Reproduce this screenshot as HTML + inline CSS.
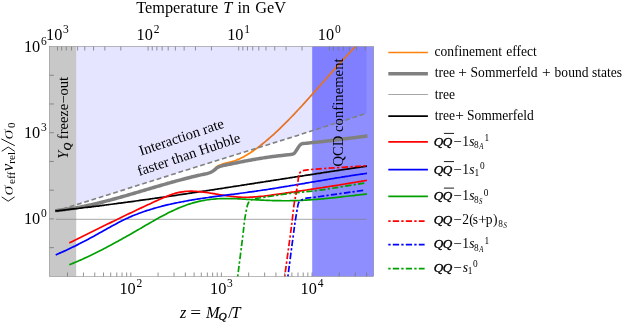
<!DOCTYPE html><html><head><meta charset="utf-8"><title>plot</title>
<style>html,body{margin:0;padding:0;background:#fff;}svg{display:block;}text{font-family:"Liberation Serif",serif;fill:#000;}.t{opacity:0.999}</style></head><body>
<svg width="630" height="323" viewBox="0 0 630 323">
<rect x="0" y="0" width="630" height="323" fill="#fff"/>
<rect x="49.5" y="46.6" width="26.7" height="229.8" fill="#c8c8c8"/>
<rect x="312.2" y="46.6" width="61.4" height="229.8" fill="#8e8eff"/>
<line x1="55.9" y1="219.3" x2="366.6" y2="219.3" stroke="#808080" stroke-width="0.7"/>
<path d="M214.00,169.31 C214.34,169.01 215.34,168.02 216.02,167.48 C216.69,166.93 217.36,166.47 218.03,166.06 C218.71,165.64 219.38,165.30 220.05,164.98 C220.72,164.67 221.40,164.41 222.07,164.18 C222.74,163.94 223.41,163.75 224.09,163.57 C224.76,163.38 225.43,163.23 226.10,163.08 C226.78,162.92 227.45,162.79 228.12,162.63 C228.79,162.48 229.46,162.33 230.14,162.16 C230.81,161.99 231.48,161.80 232.15,161.60 C232.83,161.40 233.50,161.18 234.17,160.94 C234.84,160.71 235.52,160.46 236.19,160.20 C236.86,159.93 237.53,159.66 238.21,159.36 C238.88,159.07 239.55,158.77 240.22,158.45 C240.90,158.13 241.57,157.80 242.24,157.46 C242.91,157.11 243.58,156.76 244.26,156.39 C244.93,156.02 245.60,155.64 246.27,155.25 C246.95,154.86 247.62,154.45 248.29,154.04 C248.96,153.63 249.64,153.20 250.31,152.77 C250.98,152.33 251.65,151.89 252.33,151.44 C253.00,150.98 253.67,150.52 254.34,150.05 C255.02,149.58 255.69,149.10 256.36,148.61 C257.03,148.12 257.70,147.63 258.38,147.12 C259.05,146.62 259.72,146.11 260.39,145.59 C261.07,145.07 261.74,144.54 262.41,144.00 C263.08,143.47 263.76,142.92 264.43,142.37 C265.10,141.82 265.77,141.27 266.45,140.70 C267.12,140.14 267.79,139.57 268.46,138.99 C269.14,138.41 269.81,137.82 270.48,137.23 C271.15,136.64 271.82,136.04 272.50,135.44 C273.17,134.83 273.84,134.22 274.51,133.61 C275.19,132.99 275.86,132.37 276.53,131.74 C277.20,131.11 277.88,130.48 278.55,129.84 C279.22,129.20 279.89,128.55 280.57,127.90 C281.24,127.25 281.91,126.59 282.58,125.93 C283.26,125.27 283.93,124.61 284.60,123.94 C285.27,123.27 285.94,122.59 286.62,121.91 C287.29,121.23 287.96,120.55 288.63,119.86 C289.31,119.17 289.98,118.48 290.65,117.78 C291.32,117.08 292.00,116.38 292.67,115.68 C293.34,114.97 294.01,114.26 294.69,113.55 C295.36,112.84 296.03,112.12 296.70,111.41 C297.38,110.69 298.05,109.97 298.72,109.24 C299.39,108.52 300.06,107.79 300.74,107.06 C301.41,106.33 302.08,105.59 302.75,104.86 C303.43,104.12 304.10,103.38 304.77,102.64 C305.44,101.90 306.12,101.16 306.79,100.41 C307.46,99.67 308.13,98.92 308.81,98.17 C309.48,97.42 310.15,96.67 310.82,95.92 C311.50,95.17 312.17,94.41 312.84,93.66 C313.51,92.90 314.18,92.15 314.86,91.39 C315.53,90.63 316.20,89.88 316.87,89.12 C317.55,88.36 318.22,87.60 318.89,86.84 C319.56,86.08 320.24,85.32 320.91,84.56 C321.58,83.80 322.25,83.04 322.93,82.27 C323.60,81.51 324.27,80.75 324.94,79.99 C325.62,79.23 326.29,78.47 326.96,77.71 C327.63,76.95 328.30,76.19 328.98,75.43 C329.65,74.67 330.32,73.91 330.99,73.16 C331.67,72.40 332.34,71.64 333.01,70.89 C333.68,70.13 334.36,69.38 335.03,68.63 C335.70,67.88 336.37,67.13 337.05,66.38 C337.72,65.63 338.39,64.88 339.06,64.14 C339.74,63.39 340.41,62.65 341.08,61.91 C341.75,61.17 342.42,60.43 343.10,59.69 C343.77,58.96 344.44,58.22 345.11,57.49 C345.79,56.76 346.46,56.03 347.13,55.31 C347.80,54.58 348.48,53.86 349.15,53.14 C349.82,52.42 350.49,51.71 351.17,51.00 C351.84,50.29 352.51,49.58 353.18,48.87 C353.86,48.17 354.86,47.12 355.20,46.77" fill="none" stroke="#ff800a" stroke-width="1.7"/>
<path d="M76.2,46.6 L76.2,204.8 L90.0,200.5 L190.0,168.9 L296.0,135.9 L366.3,113.4 L366.6,113.4 L366.6,46.6 Z" fill="#0000ff" fill-opacity="0.1"/>
<path d="M55.2,211.3 L90.0,200.5 L190.0,168.9 L296.0,135.9 L366.3,113.4" fill="none" stroke="#808080" stroke-width="1.6" stroke-dasharray="4.8 2.8"/>
<path d="M55.20,210.75 C55.54,210.71 56.55,210.61 57.22,210.54 C57.90,210.47 58.57,210.39 59.25,210.31 C59.92,210.24 60.60,210.16 61.27,210.07 C61.95,209.99 62.62,209.90 63.30,209.81 C63.97,209.72 64.65,209.63 65.32,209.54 C65.99,209.44 66.67,209.34 67.34,209.24 C68.02,209.14 68.69,209.04 69.37,208.94 C70.04,208.83 70.72,208.72 71.39,208.61 C72.07,208.50 72.74,208.39 73.42,208.28 C74.09,208.16 74.77,208.04 75.44,207.92 C76.11,207.80 76.79,207.68 77.46,207.56 C78.14,207.43 78.81,207.31 79.49,207.18 C80.16,207.05 80.84,206.92 81.51,206.78 C82.19,206.65 82.86,206.51 83.54,206.38 C84.21,206.24 84.89,206.10 85.56,205.96 C86.23,205.82 86.91,205.67 87.58,205.53 C88.26,205.38 88.93,205.24 89.61,205.09 C90.28,204.94 90.96,204.79 91.63,204.63 C92.31,204.48 92.98,204.33 93.66,204.17 C94.33,204.01 95.01,203.85 95.68,203.69 C96.35,203.54 97.03,203.37 97.70,203.21 C98.38,203.05 99.05,202.88 99.73,202.72 C100.40,202.55 101.08,202.38 101.75,202.21 C102.43,202.04 103.10,201.87 103.78,201.70 C104.45,201.53 105.13,201.36 105.80,201.18 C106.47,201.01 107.15,200.83 107.82,200.65 C108.50,200.48 109.17,200.30 109.85,200.12 C110.52,199.94 111.20,199.76 111.87,199.58 C112.55,199.39 113.22,199.21 113.90,199.03 C114.57,198.84 115.25,198.66 115.92,198.47 C116.59,198.29 117.27,198.10 117.94,197.91 C118.62,197.72 119.29,197.53 119.97,197.34 C120.64,197.15 121.32,196.96 121.99,196.77 C122.67,196.58 123.34,196.39 124.02,196.19 C124.69,196.00 125.37,195.81 126.04,195.61 C126.71,195.42 127.39,195.22 128.06,195.03 C128.74,194.83 129.41,194.64 130.09,194.44 C130.76,194.24 131.44,194.05 132.11,193.85 C132.79,193.65 133.46,193.45 134.14,193.26 C134.81,193.06 135.49,192.86 136.16,192.66 C136.83,192.46 137.51,192.26 138.18,192.06 C138.86,191.86 139.53,191.66 140.21,191.46 C140.88,191.26 141.56,191.06 142.23,190.86 C142.91,190.66 143.58,190.46 144.26,190.26 C144.93,190.06 145.61,189.86 146.28,189.66 C146.95,189.46 147.63,189.26 148.30,189.06 C148.98,188.86 149.65,188.66 150.33,188.46 C151.00,188.26 151.68,188.06 152.35,187.86 C153.03,187.66 153.70,187.46 154.38,187.27 C155.05,187.07 155.73,186.87 156.40,186.67 C157.07,186.47 157.75,186.27 158.42,186.08 C159.10,185.88 159.77,185.68 160.45,185.49 C161.12,185.29 161.80,185.09 162.47,184.90 C163.15,184.70 163.82,184.51 164.50,184.32 C165.17,184.12 165.85,183.93 166.52,183.74 C167.19,183.54 167.87,183.35 168.54,183.16 C169.22,182.97 169.89,182.78 170.57,182.59 C171.24,182.40 171.92,182.21 172.59,182.02 C173.27,181.84 173.94,181.65 174.62,181.46 C175.29,181.28 175.97,181.09 176.64,180.91 C177.31,180.73 177.99,180.54 178.66,180.36 C179.34,180.18 180.01,180.00 180.69,179.82 C181.36,179.64 182.04,179.46 182.71,179.29 C183.39,179.11 184.06,178.93 184.74,178.76 C185.41,178.59 186.09,178.41 186.76,178.24 C187.43,178.07 188.11,177.90 188.78,177.73 C189.46,177.56 190.13,177.40 190.81,177.23 C191.48,177.06 192.16,176.90 192.83,176.74 C193.51,176.58 194.18,176.41 194.86,176.26 C195.53,176.10 196.21,175.94 196.88,175.78 C197.55,175.63 198.23,175.47 198.90,175.32 C199.58,175.17 200.25,175.02 200.93,174.87 C201.60,174.72 202.28,174.58 202.95,174.43 C203.63,174.29 204.30,174.14 204.98,174.00 C205.65,173.86 206.00,173.87 207.00,173.59 C208.00,173.30 209.67,172.96 211.00,172.30 C212.33,171.64 213.90,170.42 215.00,169.60 C216.10,168.78 216.32,168.05 217.60,167.40 C218.88,166.75 221.51,166.04 222.70,165.68 C223.89,165.32 224.06,165.38 224.74,165.23 C225.42,165.09 226.10,164.94 226.78,164.80 C227.46,164.65 228.14,164.51 228.82,164.36 C229.50,164.22 230.18,164.08 230.86,163.93 C231.54,163.79 232.22,163.65 232.90,163.51 C233.58,163.37 234.26,163.23 234.94,163.09 C235.62,162.95 236.30,162.81 236.98,162.68 C237.66,162.54 238.34,162.40 239.02,162.27 C239.69,162.13 240.37,162.00 241.05,161.86 C241.73,161.73 242.41,161.60 243.09,161.47 C243.77,161.34 244.45,161.21 245.13,161.08 C245.81,160.95 246.49,160.82 247.17,160.69 C247.85,160.57 248.53,160.44 249.21,160.32 C249.89,160.19 250.57,160.07 251.25,159.95 C251.93,159.83 252.61,159.70 253.29,159.58 C253.97,159.47 254.65,159.35 255.33,159.23 C256.01,159.11 256.69,159.00 257.37,158.88 C258.05,158.77 258.73,158.66 259.41,158.54 C260.09,158.43 260.77,158.32 261.45,158.21 C262.13,158.11 262.81,158.00 263.49,157.89 C264.17,157.79 264.85,157.68 265.53,157.58 C266.21,157.48 266.89,157.38 267.57,157.28 C268.25,157.18 268.93,157.08 269.61,156.98 C270.29,156.89 270.97,156.79 271.65,156.70 C272.33,156.61 273.01,156.51 273.68,156.43 C274.36,156.34 275.04,156.25 275.72,156.16 C276.40,156.08 277.08,155.99 277.76,155.91 C278.44,155.83 279.12,155.74 279.80,155.67 C280.48,155.59 281.16,155.51 281.84,155.43 C282.52,155.36 283.20,155.29 283.88,155.21 C284.56,155.14 285.24,155.07 285.92,155.01 C286.60,154.94 287.28,154.87 287.96,154.81 C288.64,154.75 289.24,154.74 290.00,154.62 C290.76,154.51 291.73,154.39 292.50,154.10 C293.27,153.81 293.88,153.62 294.60,152.90 C295.32,152.18 296.03,150.95 296.80,149.80 C297.57,148.65 298.47,146.95 299.20,146.00 C299.93,145.05 300.62,144.50 301.20,144.10 C301.78,143.70 302.11,143.70 302.70,143.58 C303.29,143.47 304.05,143.45 304.72,143.38 C305.40,143.32 306.07,143.25 306.75,143.18 C307.43,143.11 308.10,143.05 308.77,142.98 C309.45,142.91 310.12,142.84 310.80,142.77 C311.48,142.70 312.15,142.63 312.82,142.56 C313.50,142.49 314.17,142.42 314.85,142.35 C315.52,142.28 316.20,142.20 316.88,142.13 C317.55,142.06 318.22,141.99 318.90,141.91 C319.57,141.84 320.25,141.77 320.93,141.69 C321.60,141.62 322.27,141.54 322.95,141.47 C323.62,141.39 324.30,141.32 324.98,141.24 C325.65,141.17 326.32,141.09 327.00,141.02 C327.68,140.94 328.35,140.86 329.02,140.78 C329.70,140.71 330.38,140.63 331.05,140.55 C331.73,140.47 332.40,140.39 333.07,140.31 C333.75,140.24 334.43,140.16 335.10,140.08 C335.78,140.00 336.45,139.92 337.12,139.83 C337.80,139.75 338.47,139.67 339.15,139.59 C339.82,139.51 340.50,139.43 341.18,139.34 C341.85,139.26 342.52,139.18 343.20,139.10 C343.88,139.01 344.55,138.93 345.23,138.84 C345.90,138.76 346.57,138.67 347.25,138.59 C347.93,138.50 348.60,138.42 349.27,138.33 C349.95,138.25 350.62,138.16 351.30,138.07 C351.98,137.99 352.65,137.90 353.32,137.81 C354.00,137.72 354.68,137.63 355.35,137.55 C356.03,137.46 356.70,137.37 357.38,137.28 C358.05,137.19 358.72,137.10 359.40,137.01 C360.07,136.92 360.75,136.83 361.43,136.74 C362.10,136.65 362.77,136.55 363.45,136.46 C364.12,136.37 364.80,136.28 365.48,136.18 C366.15,136.09 367.16,135.95 367.50,135.90" fill="none" stroke="#808080" stroke-width="3.5" stroke-linejoin="round"/>
<path d="M55.20,211.00 C55.54,210.96 56.54,210.85 57.21,210.78 C57.88,210.70 58.55,210.63 59.22,210.56 C59.89,210.48 60.56,210.41 61.23,210.33 C61.91,210.26 62.58,210.19 63.25,210.11 C63.92,210.04 64.59,209.96 65.26,209.88 C65.93,209.81 66.60,209.73 67.27,209.66 C67.94,209.58 68.61,209.50 69.28,209.43 C69.95,209.35 70.62,209.27 71.29,209.20 C71.96,209.12 72.63,209.04 73.30,208.96 C73.98,208.89 74.65,208.81 75.32,208.73 C75.99,208.65 76.66,208.57 77.33,208.49 C78.00,208.42 78.67,208.34 79.34,208.26 C80.01,208.18 80.68,208.10 81.35,208.02 C82.02,207.94 82.69,207.86 83.36,207.78 C84.03,207.70 84.70,207.62 85.37,207.53 C86.04,207.45 86.72,207.37 87.39,207.29 C88.06,207.21 88.73,207.13 89.40,207.05 C90.07,206.96 90.74,206.88 91.41,206.80 C92.08,206.72 92.75,206.63 93.42,206.55 C94.09,206.47 94.76,206.38 95.43,206.30 C96.10,206.22 96.77,206.13 97.44,206.05 C98.11,205.96 98.78,205.88 99.46,205.80 C100.13,205.71 100.80,205.63 101.47,205.54 C102.14,205.46 102.81,205.37 103.48,205.29 C104.15,205.20 104.82,205.11 105.49,205.03 C106.16,204.94 106.83,204.86 107.50,204.77 C108.17,204.68 108.84,204.60 109.51,204.51 C110.18,204.42 110.85,204.34 111.53,204.25 C112.20,204.16 112.87,204.07 113.54,203.99 C114.21,203.90 114.88,203.81 115.55,203.72 C116.22,203.64 116.89,203.55 117.56,203.46 C118.23,203.37 118.90,203.28 119.57,203.19 C120.24,203.10 120.91,203.01 121.58,202.92 C122.25,202.83 122.92,202.75 123.59,202.66 C124.27,202.57 124.94,202.48 125.61,202.39 C126.28,202.30 126.95,202.20 127.62,202.11 C128.29,202.02 128.96,201.93 129.63,201.84 C130.30,201.75 130.97,201.66 131.64,201.57 C132.31,201.48 132.98,201.39 133.65,201.29 C134.32,201.20 134.99,201.11 135.66,201.02 C136.34,200.93 137.01,200.83 137.68,200.74 C138.35,200.65 139.02,200.55 139.69,200.46 C140.36,200.37 141.03,200.28 141.70,200.18 C142.37,200.09 143.04,200.00 143.71,199.90 C144.38,199.81 145.05,199.72 145.72,199.62 C146.39,199.53 147.06,199.43 147.73,199.34 C148.40,199.24 149.08,199.15 149.75,199.06 C150.42,198.96 151.09,198.87 151.76,198.77 C152.43,198.68 153.10,198.58 153.77,198.49 C154.44,198.39 155.11,198.29 155.78,198.20 C156.45,198.10 157.12,198.01 157.79,197.91 C158.46,197.82 159.13,197.72 159.80,197.62 C160.47,197.53 161.14,197.43 161.82,197.33 C162.49,197.24 163.16,197.14 163.83,197.04 C164.50,196.95 165.17,196.85 165.84,196.75 C166.51,196.66 167.18,196.56 167.85,196.46 C168.52,196.36 169.19,196.27 169.86,196.17 C170.53,196.07 171.20,195.97 171.87,195.88 C172.54,195.78 173.21,195.68 173.89,195.58 C174.56,195.48 175.23,195.38 175.90,195.29 C176.57,195.19 177.24,195.09 177.91,194.99 C178.58,194.89 179.25,194.79 179.92,194.69 C180.59,194.59 181.26,194.49 181.93,194.40 C182.60,194.30 183.27,194.20 183.94,194.10 C184.61,194.00 185.28,193.90 185.95,193.80 C186.63,193.70 187.30,193.60 187.97,193.50 C188.64,193.40 189.31,193.30 189.98,193.20 C190.65,193.10 191.32,193.00 191.99,192.90 C192.66,192.80 193.33,192.70 194.00,192.60 C194.67,192.50 195.34,192.39 196.01,192.29 C196.68,192.19 197.35,192.09 198.02,191.99 C198.70,191.89 199.37,191.79 200.04,191.69 C200.71,191.59 201.38,191.49 202.05,191.38 C202.72,191.28 203.39,191.18 204.06,191.08 C204.73,190.98 205.40,190.88 206.07,190.77 C206.74,190.67 207.41,190.57 208.08,190.47 C208.75,190.37 209.42,190.27 210.09,190.16 C210.76,190.06 211.44,189.96 212.11,189.86 C212.78,189.75 213.45,189.65 214.12,189.55 C214.79,189.45 215.46,189.34 216.13,189.24 C216.80,189.14 217.47,189.04 218.14,188.93 C218.81,188.83 219.48,188.73 220.15,188.63 C220.82,188.52 221.49,188.42 222.16,188.32 C222.83,188.21 223.50,188.11 224.18,188.01 C224.85,187.90 225.52,187.80 226.19,187.70 C226.86,187.60 227.53,187.49 228.20,187.39 C228.87,187.29 229.54,187.18 230.21,187.08 C230.88,186.97 231.55,186.87 232.22,186.77 C232.89,186.66 233.56,186.56 234.23,186.46 C234.90,186.35 235.57,186.25 236.25,186.15 C236.92,186.04 237.59,185.94 238.26,185.83 C238.93,185.73 239.60,185.63 240.27,185.52 C240.94,185.42 241.61,185.32 242.28,185.21 C242.95,185.11 243.62,185.00 244.29,184.90 C244.96,184.80 245.63,184.69 246.30,184.59 C246.97,184.48 247.64,184.38 248.31,184.27 C248.99,184.17 249.66,184.07 250.33,183.96 C251.00,183.86 251.67,183.75 252.34,183.65 C253.01,183.54 253.68,183.44 254.35,183.34 C255.02,183.23 255.69,183.13 256.36,183.02 C257.03,182.92 257.70,182.81 258.37,182.71 C259.04,182.61 259.71,182.50 260.38,182.40 C261.06,182.29 261.73,182.19 262.40,182.08 C263.07,181.98 263.74,181.88 264.41,181.77 C265.08,181.67 265.75,181.56 266.42,181.46 C267.09,181.35 267.76,181.25 268.43,181.14 C269.10,181.04 269.77,180.94 270.44,180.83 C271.11,180.73 271.78,180.62 272.45,180.52 C273.12,180.41 273.80,180.31 274.47,180.20 C275.14,180.10 275.81,180.00 276.48,179.89 C277.15,179.79 277.82,179.68 278.49,179.58 C279.16,179.47 279.83,179.37 280.50,179.27 C281.17,179.16 281.84,179.06 282.51,178.95 C283.18,178.85 283.85,178.74 284.52,178.64 C285.19,178.54 285.86,178.43 286.54,178.33 C287.21,178.22 287.88,178.12 288.55,178.02 C289.22,177.91 289.89,177.81 290.56,177.70 C291.23,177.60 291.90,177.49 292.57,177.39 C293.24,177.29 293.91,177.18 294.58,177.08 C295.25,176.98 295.92,176.87 296.59,176.77 C297.26,176.66 297.93,176.56 298.61,176.46 C299.28,176.35 299.95,176.25 300.62,176.14 C301.29,176.04 301.96,175.94 302.63,175.83 C303.30,175.73 303.97,175.63 304.64,175.52 C305.31,175.42 305.98,175.32 306.65,175.21 C307.32,175.11 307.99,175.01 308.66,174.90 C309.33,174.80 310.00,174.70 310.67,174.59 C311.35,174.49 312.02,174.39 312.69,174.29 C313.36,174.18 314.03,174.08 314.70,173.98 C315.37,173.87 316.04,173.77 316.71,173.67 C317.38,173.57 318.05,173.46 318.72,173.36 C319.39,173.26 320.06,173.16 320.73,173.05 C321.40,172.95 322.07,172.85 322.74,172.75 C323.42,172.64 324.09,172.54 324.76,172.44 C325.43,172.34 326.10,172.24 326.77,172.13 C327.44,172.03 328.11,171.93 328.78,171.83 C329.45,171.73 330.12,171.62 330.79,171.52 C331.46,171.42 332.13,171.32 332.80,171.22 C333.47,171.12 334.14,171.02 334.81,170.91 C335.48,170.81 336.16,170.71 336.83,170.61 C337.50,170.51 338.17,170.41 338.84,170.31 C339.51,170.21 340.18,170.11 340.85,170.01 C341.52,169.91 342.19,169.80 342.86,169.70 C343.53,169.60 344.20,169.50 344.87,169.40 C345.54,169.30 346.21,169.20 346.88,169.10 C347.55,169.00 348.22,168.90 348.90,168.80 C349.57,168.70 350.24,168.60 350.91,168.50 C351.58,168.41 352.25,168.31 352.92,168.21 C353.59,168.11 354.26,168.01 354.93,167.91 C355.60,167.81 356.27,167.71 356.94,167.61 C357.61,167.51 358.28,167.42 358.95,167.32 C359.62,167.22 360.29,167.12 360.97,167.02 C361.64,166.92 362.31,166.83 362.98,166.73 C363.65,166.63 364.32,166.53 364.99,166.43 C365.66,166.34 366.66,166.19 367.00,166.14" fill="none" stroke="#000" stroke-width="1.7"/>
<path d="M69.30,242.98 C69.64,242.81 70.64,242.32 71.31,241.99 C71.98,241.66 72.65,241.33 73.32,240.99 C73.99,240.66 74.66,240.33 75.33,240.00 C76.00,239.67 76.68,239.34 77.35,239.01 C78.02,238.68 78.69,238.35 79.36,238.01 C80.03,237.68 80.70,237.35 81.37,237.02 C82.04,236.69 82.71,236.36 83.38,236.02 C84.05,235.69 84.72,235.36 85.39,235.03 C86.06,234.70 86.73,234.37 87.40,234.03 C88.07,233.70 88.74,233.37 89.41,233.04 C90.09,232.71 90.76,232.38 91.43,232.04 C92.10,231.71 92.77,231.38 93.44,231.05 C94.11,230.72 94.78,230.39 95.45,230.05 C96.12,229.72 96.79,229.39 97.46,229.06 C98.13,228.73 98.80,228.40 99.47,228.07 C100.14,227.74 100.81,227.41 101.48,227.08 C102.15,226.75 102.82,226.42 103.50,226.09 C104.17,225.76 104.84,225.43 105.51,225.10 C106.18,224.77 106.85,224.44 107.52,224.11 C108.19,223.78 108.86,223.45 109.53,223.12 C110.20,222.79 110.87,222.46 111.54,222.13 C112.21,221.81 112.88,221.48 113.55,221.15 C114.22,220.82 114.89,220.50 115.56,220.17 C116.23,219.84 116.91,219.52 117.58,219.19 C118.25,218.86 118.92,218.54 119.59,218.21 C120.26,217.89 120.93,217.56 121.60,217.24 C122.27,216.91 122.94,216.59 123.61,216.26 C124.28,215.94 124.95,215.62 125.62,215.29 C126.29,214.97 126.96,214.65 127.63,214.33 C128.30,214.00 128.97,213.68 129.64,213.36 C130.32,213.04 130.99,212.72 131.66,212.40 C132.33,212.08 133.00,211.76 133.67,211.44 C134.34,211.12 135.01,210.80 135.68,210.48 C136.35,210.17 137.02,209.85 137.69,209.53 C138.36,209.22 139.03,208.90 139.70,208.58 C140.37,208.27 141.04,207.95 141.71,207.64 C142.38,207.32 143.05,207.01 143.72,206.70 C144.40,206.38 145.07,206.07 145.74,205.76 C146.41,205.45 147.08,205.14 147.75,204.83 C148.42,204.52 149.09,204.21 149.76,203.90 C150.43,203.59 151.10,203.28 151.77,202.97 C152.44,202.67 153.11,202.36 153.78,202.05 C154.45,201.75 155.12,201.44 155.79,201.14 C156.46,200.83 157.13,200.53 157.81,200.23 C158.48,199.92 159.15,199.62 159.82,199.32 C160.49,199.02 161.16,198.72 161.83,198.43 C162.50,198.13 163.17,197.84 163.84,197.55 C164.51,197.27 165.18,196.98 165.85,196.71 C166.52,196.43 167.19,196.16 167.86,195.90 C168.53,195.63 169.20,195.38 169.87,195.13 C170.54,194.88 171.22,194.64 171.89,194.41 C172.56,194.18 173.23,193.96 173.90,193.75 C174.57,193.54 175.24,193.34 175.91,193.15 C176.58,192.97 177.25,192.79 177.92,192.63 C178.59,192.47 179.26,192.32 179.93,192.19 C180.60,192.06 181.27,191.94 181.94,191.83 C182.61,191.73 183.28,191.64 183.95,191.56 C184.63,191.49 185.30,191.42 185.97,191.37 C186.64,191.32 187.31,191.28 187.98,191.25 C188.65,191.22 189.32,191.20 189.99,191.19 C190.66,191.18 191.33,191.19 192.00,191.20 C192.67,191.21 193.34,191.23 194.01,191.26 C194.68,191.29 195.35,191.32 196.02,191.37 C196.69,191.41 197.36,191.46 198.04,191.52 C198.71,191.58 199.38,191.64 200.05,191.71 C200.72,191.78 201.39,191.86 202.06,191.93 C202.73,192.01 203.40,192.10 204.07,192.18 C204.74,192.27 205.41,192.36 206.08,192.46 C206.75,192.55 207.42,192.65 208.09,192.75 C208.76,192.85 209.43,192.95 210.10,193.06 C210.77,193.16 211.45,193.27 212.12,193.38 C212.79,193.49 213.46,193.60 214.13,193.71 C214.80,193.82 215.47,193.93 216.14,194.05 C216.81,194.16 217.48,194.27 218.15,194.38 C218.82,194.50 219.49,194.61 220.16,194.72 C220.83,194.83 221.50,194.94 222.17,195.05 C222.84,195.16 223.51,195.26 224.18,195.37 C224.85,195.47 225.53,195.57 226.20,195.67 C226.87,195.77 227.54,195.87 228.21,195.96 C228.88,196.06 229.55,196.15 230.22,196.24 C230.89,196.32 231.56,196.40 232.23,196.48 C232.90,196.56 233.57,196.63 234.24,196.70 C234.91,196.77 235.58,196.83 236.25,196.89 C236.92,196.95 237.59,197.00 238.26,197.04 C238.94,197.09 239.61,197.13 240.28,197.16 C240.95,197.19 241.62,197.22 242.29,197.23 C242.96,197.25 243.63,197.27 244.30,197.27 C244.97,197.28 245.64,197.28 246.31,197.27 C246.98,197.27 247.65,197.26 248.32,197.24 C248.99,197.22 249.66,197.20 250.33,197.17 C251.00,197.15 251.67,197.12 252.35,197.08 C253.02,197.04 253.69,197.00 254.36,196.96 C255.03,196.91 255.70,196.86 256.37,196.81 C257.04,196.76 257.71,196.70 258.38,196.64 C259.05,196.58 259.72,196.51 260.39,196.44 C261.06,196.38 261.73,196.31 262.40,196.23 C263.07,196.16 263.74,196.08 264.41,196.00 C265.08,195.92 265.76,195.84 266.43,195.76 C267.10,195.67 267.77,195.59 268.44,195.50 C269.11,195.41 269.78,195.32 270.45,195.23 C271.12,195.14 271.79,195.05 272.46,194.96 C273.13,194.86 273.80,194.77 274.47,194.67 C275.14,194.58 275.81,194.48 276.48,194.39 C277.15,194.29 277.82,194.19 278.49,194.10 C279.17,194.00 279.84,193.90 280.51,193.81 C281.18,193.71 281.85,193.61 282.52,193.52 C283.19,193.42 283.86,193.32 284.53,193.23 C285.20,193.13 285.87,193.03 286.54,192.93 C287.21,192.84 287.88,192.74 288.55,192.64 C289.22,192.54 289.89,192.45 290.56,192.35 C291.23,192.25 291.90,192.15 292.57,192.05 C293.25,191.96 293.92,191.86 294.59,191.76 C295.26,191.66 295.93,191.56 296.60,191.46 C297.27,191.36 297.94,191.27 298.61,191.17 C299.28,191.07 299.95,190.97 300.62,190.87 C301.29,190.77 301.96,190.67 302.63,190.57 C303.30,190.47 303.97,190.37 304.64,190.27 C305.31,190.17 305.98,190.07 306.66,189.97 C307.33,189.87 308.00,189.77 308.67,189.67 C309.34,189.57 310.01,189.47 310.68,189.37 C311.35,189.27 312.02,189.16 312.69,189.06 C313.36,188.96 314.03,188.86 314.70,188.76 C315.37,188.66 316.04,188.55 316.71,188.45 C317.38,188.35 318.05,188.25 318.72,188.14 C319.39,188.04 320.07,187.94 320.74,187.84 C321.41,187.73 322.08,187.63 322.75,187.53 C323.42,187.42 324.09,187.32 324.76,187.21 C325.43,187.11 326.10,187.01 326.77,186.90 C327.44,186.80 328.11,186.69 328.78,186.59 C329.45,186.48 330.12,186.38 330.79,186.27 C331.46,186.17 332.13,186.06 332.80,185.95 C333.48,185.85 334.15,185.74 334.82,185.63 C335.49,185.53 336.16,185.42 336.83,185.31 C337.50,185.21 338.17,185.10 338.84,184.99 C339.51,184.88 340.18,184.77 340.85,184.67 C341.52,184.56 342.19,184.45 342.86,184.34 C343.53,184.23 344.20,184.12 344.87,184.01 C345.54,183.90 346.21,183.79 346.89,183.68 C347.56,183.57 348.23,183.46 348.90,183.35 C349.57,183.24 350.24,183.13 350.91,183.02 C351.58,182.91 352.25,182.80 352.92,182.68 C353.59,182.57 354.26,182.46 354.93,182.35 C355.60,182.23 356.27,182.12 356.94,182.01 C357.61,181.89 358.28,181.78 358.95,181.66 C359.62,181.55 360.30,181.44 360.97,181.32 C361.64,181.21 362.31,181.09 362.98,180.98 C363.65,180.86 364.32,180.74 364.99,180.63 C365.66,180.51 366.66,180.34 367.00,180.28" fill="none" stroke="#ff0000" stroke-width="1.7"/>
<path d="M55.70,254.88 C56.03,254.73 57.04,254.31 57.71,254.02 C58.38,253.73 59.05,253.44 59.72,253.15 C60.39,252.86 61.06,252.56 61.73,252.26 C62.39,251.96 63.06,251.66 63.73,251.36 C64.40,251.06 65.07,250.75 65.74,250.44 C66.41,250.13 67.08,249.82 67.75,249.51 C68.42,249.19 69.09,248.88 69.76,248.56 C70.43,248.24 71.10,247.92 71.77,247.60 C72.44,247.27 73.11,246.95 73.78,246.62 C74.44,246.29 75.11,245.96 75.78,245.63 C76.45,245.30 77.12,244.96 77.79,244.63 C78.46,244.29 79.13,243.95 79.80,243.61 C80.47,243.27 81.14,242.93 81.81,242.58 C82.48,242.24 83.15,241.89 83.82,241.54 C84.49,241.19 85.16,240.84 85.83,240.48 C86.50,240.13 87.16,239.77 87.83,239.42 C88.50,239.06 89.17,238.70 89.84,238.34 C90.51,237.98 91.18,237.61 91.85,237.25 C92.52,236.88 93.19,236.52 93.86,236.15 C94.53,235.78 95.20,235.41 95.87,235.03 C96.54,234.66 97.21,234.29 97.88,233.91 C98.55,233.54 99.22,233.16 99.88,232.78 C100.55,232.41 101.22,232.03 101.89,231.65 C102.56,231.28 103.23,230.90 103.90,230.52 C104.57,230.15 105.24,229.77 105.91,229.39 C106.58,229.02 107.25,228.64 107.92,228.27 C108.59,227.90 109.26,227.52 109.93,227.15 C110.60,226.78 111.27,226.41 111.93,226.05 C112.60,225.68 113.27,225.31 113.94,224.95 C114.61,224.59 115.28,224.23 115.95,223.88 C116.62,223.52 117.29,223.17 117.96,222.82 C118.63,222.47 119.30,222.12 119.97,221.78 C120.64,221.44 121.31,221.10 121.98,220.77 C122.65,220.44 123.32,220.11 123.99,219.78 C124.65,219.46 125.32,219.14 125.99,218.83 C126.66,218.51 127.33,218.21 128.00,217.90 C128.67,217.60 129.34,217.30 130.01,217.01 C130.68,216.72 131.35,216.43 132.02,216.15 C132.69,215.86 133.36,215.59 134.03,215.31 C134.70,215.04 135.37,214.77 136.04,214.51 C136.70,214.24 137.37,213.98 138.04,213.73 C138.71,213.47 139.38,213.22 140.05,212.98 C140.72,212.73 141.39,212.49 142.06,212.25 C142.73,212.01 143.40,211.78 144.07,211.55 C144.74,211.32 145.41,211.09 146.08,210.87 C146.75,210.64 147.42,210.43 148.09,210.21 C148.76,210.00 149.42,209.78 150.09,209.58 C150.76,209.37 151.43,209.16 152.10,208.96 C152.77,208.76 153.44,208.56 154.11,208.37 C154.78,208.18 155.45,207.98 156.12,207.80 C156.79,207.61 157.46,207.42 158.13,207.24 C158.80,207.06 159.47,206.88 160.14,206.70 C160.81,206.52 161.48,206.35 162.14,206.18 C162.81,206.01 163.48,205.84 164.15,205.67 C164.82,205.51 165.49,205.34 166.16,205.18 C166.83,205.02 167.50,204.86 168.17,204.70 C168.84,204.55 169.51,204.39 170.18,204.24 C170.85,204.09 171.52,203.94 172.19,203.79 C172.86,203.64 173.53,203.50 174.19,203.35 C174.86,203.21 175.53,203.07 176.20,202.93 C176.87,202.79 177.54,202.65 178.21,202.52 C178.88,202.38 179.55,202.25 180.22,202.12 C180.89,201.98 181.56,201.85 182.23,201.73 C182.90,201.60 183.57,201.47 184.24,201.35 C184.91,201.22 185.58,201.10 186.25,200.98 C186.91,200.86 187.58,200.74 188.25,200.62 C188.92,200.50 189.59,200.39 190.26,200.27 C190.93,200.16 191.60,200.04 192.27,199.93 C192.94,199.82 193.61,199.71 194.28,199.60 C194.95,199.49 195.62,199.38 196.29,199.27 C196.96,199.17 197.63,199.06 198.30,198.96 C198.96,198.85 199.63,198.75 200.30,198.65 C200.97,198.55 201.64,198.45 202.31,198.35 C202.98,198.25 203.65,198.15 204.32,198.05 C204.99,197.95 205.66,197.86 206.33,197.76 C207.00,197.66 207.67,197.57 208.34,197.48 C209.01,197.38 209.68,197.29 210.35,197.20 C211.02,197.10 211.68,197.01 212.35,196.92 C213.02,196.83 213.69,196.74 214.36,196.65 C215.03,196.56 215.70,196.47 216.37,196.38 C217.04,196.29 217.71,196.20 218.38,196.12 C219.05,196.03 219.72,195.94 220.39,195.85 C221.06,195.77 221.73,195.68 222.40,195.59 C223.07,195.51 223.74,195.42 224.40,195.34 C225.07,195.25 225.74,195.16 226.41,195.08 C227.08,194.99 227.75,194.91 228.42,194.82 C229.09,194.74 229.76,194.65 230.43,194.57 C231.10,194.48 231.77,194.40 232.44,194.31 C233.11,194.23 233.78,194.14 234.45,194.05 C235.12,193.97 235.79,193.88 236.45,193.80 C237.12,193.71 237.79,193.62 238.46,193.54 C239.13,193.45 239.80,193.36 240.47,193.28 C241.14,193.19 241.81,193.10 242.48,193.01 C243.15,192.93 243.82,192.84 244.49,192.75 C245.16,192.66 245.83,192.57 246.50,192.48 C247.17,192.39 247.84,192.30 248.51,192.21 C249.17,192.12 249.84,192.02 250.51,191.93 C251.18,191.84 251.85,191.74 252.52,191.65 C253.19,191.56 253.86,191.46 254.53,191.36 C255.20,191.27 255.87,191.17 256.54,191.08 C257.21,190.98 257.88,190.88 258.55,190.78 C259.22,190.68 259.89,190.58 260.56,190.49 C261.22,190.39 261.89,190.29 262.56,190.18 C263.23,190.08 263.90,189.98 264.57,189.88 C265.24,189.78 265.91,189.68 266.58,189.57 C267.25,189.47 267.92,189.37 268.59,189.26 C269.26,189.16 269.93,189.05 270.60,188.95 C271.27,188.84 271.94,188.74 272.61,188.63 C273.28,188.53 273.94,188.42 274.61,188.31 C275.28,188.21 275.95,188.10 276.62,187.99 C277.29,187.88 277.96,187.77 278.63,187.67 C279.30,187.56 279.97,187.45 280.64,187.34 C281.31,187.23 281.98,187.12 282.65,187.01 C283.32,186.90 283.99,186.79 284.66,186.68 C285.33,186.57 286.00,186.46 286.66,186.35 C287.33,186.24 288.00,186.13 288.67,186.01 C289.34,185.90 290.01,185.79 290.68,185.68 C291.35,185.57 292.02,185.45 292.69,185.34 C293.36,185.23 294.03,185.12 294.70,185.00 C295.37,184.89 296.04,184.78 296.71,184.66 C297.38,184.55 298.05,184.44 298.71,184.33 C299.38,184.21 300.05,184.10 300.72,183.98 C301.39,183.87 302.06,183.76 302.73,183.64 C303.40,183.53 304.07,183.42 304.74,183.30 C305.41,183.19 306.08,183.07 306.75,182.96 C307.42,182.85 308.09,182.73 308.76,182.62 C309.43,182.50 310.10,182.39 310.77,182.28 C311.43,182.16 312.10,182.05 312.77,181.93 C313.44,181.82 314.11,181.71 314.78,181.59 C315.45,181.48 316.12,181.37 316.79,181.25 C317.46,181.14 318.13,181.03 318.80,180.91 C319.47,180.80 320.14,180.69 320.81,180.57 C321.48,180.46 322.15,180.35 322.82,180.23 C323.48,180.12 324.15,180.01 324.82,179.90 C325.49,179.78 326.16,179.67 326.83,179.56 C327.50,179.45 328.17,179.34 328.84,179.23 C329.51,179.11 330.18,179.00 330.85,178.89 C331.52,178.78 332.19,178.67 332.86,178.56 C333.53,178.45 334.20,178.34 334.87,178.23 C335.54,178.12 336.20,178.01 336.87,177.91 C337.54,177.80 338.21,177.69 338.88,177.58 C339.55,177.47 340.22,177.36 340.89,177.26 C341.56,177.15 342.23,177.04 342.90,176.94 C343.57,176.83 344.24,176.72 344.91,176.62 C345.58,176.51 346.25,176.41 346.92,176.30 C347.59,176.20 348.26,176.10 348.92,175.99 C349.59,175.89 350.26,175.79 350.93,175.68 C351.60,175.58 352.27,175.48 352.94,175.38 C353.61,175.28 354.28,175.18 354.95,175.08 C355.62,174.98 356.29,174.88 356.96,174.78 C357.63,174.68 358.30,174.58 358.97,174.48 C359.64,174.39 360.31,174.29 360.97,174.19 C361.64,174.10 362.31,174.00 362.98,173.91 C363.65,173.81 364.32,173.72 364.99,173.62 C365.66,173.53 366.67,173.39 367.00,173.35" fill="none" stroke="#0000ff" stroke-width="1.7"/>
<path d="M69.30,264.77 C69.64,264.63 70.64,264.23 71.31,263.96 C71.98,263.69 72.65,263.41 73.32,263.13 C73.99,262.86 74.66,262.58 75.33,262.29 C76.00,262.01 76.68,261.72 77.35,261.43 C78.02,261.14 78.69,260.85 79.36,260.56 C80.03,260.26 80.70,259.97 81.37,259.67 C82.04,259.37 82.71,259.06 83.38,258.76 C84.05,258.46 84.72,258.15 85.39,257.84 C86.06,257.53 86.73,257.22 87.40,256.90 C88.07,256.59 88.74,256.27 89.41,255.95 C90.09,255.63 90.76,255.31 91.43,254.99 C92.10,254.66 92.77,254.34 93.44,254.01 C94.11,253.68 94.78,253.35 95.45,253.02 C96.12,252.69 96.79,252.35 97.46,252.02 C98.13,251.68 98.80,251.34 99.47,251.00 C100.14,250.66 100.81,250.32 101.48,249.98 C102.15,249.63 102.82,249.29 103.50,248.94 C104.17,248.59 104.84,248.24 105.51,247.89 C106.18,247.54 106.85,247.19 107.52,246.83 C108.19,246.48 108.86,246.12 109.53,245.77 C110.20,245.41 110.87,245.05 111.54,244.69 C112.21,244.33 112.88,243.97 113.55,243.60 C114.22,243.24 114.89,242.88 115.56,242.51 C116.23,242.14 116.91,241.77 117.58,241.41 C118.25,241.04 118.92,240.67 119.59,240.30 C120.26,239.92 120.93,239.55 121.60,239.18 C122.27,238.80 122.94,238.43 123.61,238.05 C124.28,237.68 124.95,237.30 125.62,236.92 C126.29,236.54 126.96,236.17 127.63,235.79 C128.30,235.41 128.97,235.03 129.64,234.64 C130.32,234.26 130.99,233.88 131.66,233.50 C132.33,233.11 133.00,232.73 133.67,232.34 C134.34,231.96 135.01,231.57 135.68,231.19 C136.35,230.80 137.02,230.42 137.69,230.03 C138.36,229.64 139.03,229.25 139.70,228.87 C140.37,228.48 141.04,228.09 141.71,227.70 C142.38,227.31 143.05,226.92 143.72,226.53 C144.40,226.14 145.07,225.75 145.74,225.36 C146.41,224.98 147.08,224.59 147.75,224.20 C148.42,223.81 149.09,223.42 149.76,223.04 C150.43,222.65 151.10,222.27 151.77,221.88 C152.44,221.50 153.11,221.12 153.78,220.74 C154.45,220.35 155.12,219.98 155.79,219.60 C156.46,219.22 157.13,218.85 157.81,218.48 C158.48,218.10 159.15,217.73 159.82,217.37 C160.49,217.00 161.16,216.63 161.83,216.27 C162.50,215.91 163.17,215.55 163.84,215.20 C164.51,214.84 165.18,214.49 165.85,214.15 C166.52,213.80 167.19,213.45 167.86,213.11 C168.53,212.77 169.20,212.44 169.87,212.11 C170.54,211.78 171.22,211.45 171.89,211.13 C172.56,210.81 173.23,210.49 173.90,210.18 C174.57,209.87 175.24,209.56 175.91,209.26 C176.58,208.96 177.25,208.66 177.92,208.37 C178.59,208.08 179.26,207.80 179.93,207.52 C180.60,207.24 181.27,206.97 181.94,206.70 C182.61,206.44 183.28,206.18 183.95,205.93 C184.63,205.68 185.30,205.43 185.97,205.19 C186.64,204.95 187.31,204.72 187.98,204.50 C188.65,204.27 189.32,204.05 189.99,203.84 C190.66,203.63 191.33,203.42 192.00,203.22 C192.67,203.02 193.34,202.83 194.01,202.64 C194.68,202.46 195.35,202.28 196.02,202.11 C196.69,201.93 197.36,201.77 198.04,201.61 C198.71,201.45 199.38,201.30 200.05,201.15 C200.72,201.01 201.39,200.87 202.06,200.73 C202.73,200.60 203.40,200.47 204.07,200.35 C204.74,200.23 205.41,200.12 206.08,200.01 C206.75,199.91 207.42,199.81 208.09,199.72 C208.76,199.62 209.43,199.54 210.10,199.45 C210.77,199.37 211.45,199.30 212.12,199.23 C212.79,199.16 213.46,199.10 214.13,199.04 C214.80,198.99 215.47,198.94 216.14,198.89 C216.81,198.84 217.48,198.80 218.15,198.77 C218.82,198.73 219.49,198.70 220.16,198.68 C220.83,198.65 221.50,198.63 222.17,198.61 C222.84,198.59 223.51,198.58 224.18,198.57 C224.85,198.56 225.53,198.56 226.20,198.56 C226.87,198.56 227.54,198.56 228.21,198.56 C228.88,198.57 229.55,198.58 230.22,198.59 C230.89,198.60 231.56,198.62 232.23,198.63 C232.90,198.65 233.57,198.67 234.24,198.69 C234.91,198.72 235.58,198.74 236.25,198.77 C236.92,198.79 237.59,198.82 238.26,198.85 C238.94,198.88 239.61,198.92 240.28,198.95 C240.95,198.98 241.62,199.02 242.29,199.05 C242.96,199.09 243.63,199.13 244.30,199.16 C244.97,199.20 245.64,199.24 246.31,199.28 C246.98,199.31 247.65,199.35 248.32,199.39 C248.99,199.43 249.66,199.47 250.33,199.51 C251.00,199.55 251.67,199.58 252.35,199.62 C253.02,199.66 253.69,199.70 254.36,199.73 C255.03,199.77 255.70,199.81 256.37,199.84 C257.04,199.88 257.71,199.91 258.38,199.95 C259.05,199.98 259.72,200.02 260.39,200.05 C261.06,200.08 261.73,200.11 262.40,200.15 C263.07,200.18 263.74,200.21 264.41,200.24 C265.08,200.27 265.76,200.30 266.43,200.32 C267.10,200.35 267.77,200.38 268.44,200.40 C269.11,200.43 269.78,200.45 270.45,200.48 C271.12,200.50 271.79,200.52 272.46,200.54 C273.13,200.56 273.80,200.58 274.47,200.60 C275.14,200.62 275.81,200.64 276.48,200.65 C277.15,200.67 277.82,200.68 278.49,200.69 C279.17,200.70 279.84,200.71 280.51,200.72 C281.18,200.73 281.85,200.74 282.52,200.74 C283.19,200.75 283.86,200.75 284.53,200.75 C285.20,200.75 285.87,200.75 286.54,200.75 C287.21,200.75 287.88,200.74 288.55,200.74 C289.22,200.73 289.89,200.72 290.56,200.71 C291.23,200.70 291.90,200.69 292.57,200.67 C293.25,200.66 293.92,200.64 294.59,200.62 C295.26,200.60 295.93,200.58 296.60,200.56 C297.27,200.54 297.94,200.51 298.61,200.48 C299.28,200.46 299.95,200.43 300.62,200.40 C301.29,200.37 301.96,200.33 302.63,200.30 C303.30,200.26 303.97,200.23 304.64,200.19 C305.31,200.15 305.98,200.11 306.66,200.07 C307.33,200.03 308.00,199.99 308.67,199.94 C309.34,199.90 310.01,199.85 310.68,199.81 C311.35,199.76 312.02,199.71 312.69,199.66 C313.36,199.61 314.03,199.56 314.70,199.51 C315.37,199.45 316.04,199.40 316.71,199.34 C317.38,199.29 318.05,199.23 318.72,199.17 C319.39,199.12 320.07,199.06 320.74,199.00 C321.41,198.94 322.08,198.88 322.75,198.81 C323.42,198.75 324.09,198.69 324.76,198.62 C325.43,198.56 326.10,198.49 326.77,198.43 C327.44,198.36 328.11,198.30 328.78,198.23 C329.45,198.16 330.12,198.09 330.79,198.02 C331.46,197.95 332.13,197.88 332.80,197.81 C333.48,197.74 334.15,197.67 334.82,197.60 C335.49,197.52 336.16,197.45 336.83,197.38 C337.50,197.30 338.17,197.23 338.84,197.16 C339.51,197.08 340.18,197.01 340.85,196.93 C341.52,196.86 342.19,196.78 342.86,196.71 C343.53,196.63 344.20,196.55 344.87,196.48 C345.54,196.40 346.21,196.32 346.89,196.25 C347.56,196.17 348.23,196.09 348.90,196.02 C349.57,195.94 350.24,195.86 350.91,195.78 C351.58,195.71 352.25,195.63 352.92,195.55 C353.59,195.48 354.26,195.40 354.93,195.32 C355.60,195.24 356.27,195.17 356.94,195.09 C357.61,195.01 358.28,194.94 358.95,194.86 C359.62,194.78 360.30,194.71 360.97,194.63 C361.64,194.56 362.31,194.48 362.98,194.40 C363.65,194.33 364.32,194.25 364.99,194.18 C365.66,194.11 366.66,194.00 367.00,193.96" fill="none" stroke="#00a000" stroke-width="1.7"/>
<path d="M237.70,276.40 C238.55,269.67 241.63,245.48 242.80,236.00 C243.97,226.52 243.97,224.47 244.70,219.50 C245.43,214.53 246.55,209.03 247.20,206.20 C247.85,203.37 248.07,203.48 248.60,202.50 C249.13,201.52 249.50,200.88 250.40,200.30 C251.30,199.72 251.50,199.53 254.00,199.00 C256.50,198.47 259.27,198.05 265.40,197.10 C271.53,196.15 281.70,194.47 290.80,193.30 C299.90,192.13 307.57,191.83 320.00,190.10 C332.43,188.37 357.83,184.10 365.40,182.90" fill="none" stroke="#00a000" stroke-width="1.7" stroke-dasharray="2.3 2.2 6.3 2.2"/>
<path d="M284.70,276.40 C285.62,269.67 288.93,245.48 290.20,236.00 C291.47,226.52 291.63,224.90 292.30,219.50 C292.97,214.10 293.50,208.28 294.20,203.60 C294.90,198.92 295.75,195.97 296.50,191.40 C297.25,186.83 298.18,179.23 298.70,176.20 C299.22,173.17 299.22,173.97 299.60,173.20 C299.98,172.43 300.43,172.02 301.00,171.60 C301.57,171.18 302.17,170.95 303.00,170.70 C303.83,170.45 303.17,170.42 306.00,170.10 C308.83,169.78 309.83,169.53 320.00,168.80 C330.17,168.07 359.17,166.22 367.00,165.70" fill="none" stroke="#ff0000" stroke-width="1.7" stroke-dasharray="2.3 2.2 6.3 2.2"/>
<path d="M287.90,276.40 C288.78,269.67 291.93,245.48 293.20,236.00 C294.47,226.52 294.70,224.68 295.50,219.50 C296.30,214.32 297.37,207.85 298.00,204.90 C298.63,201.95 298.77,202.58 299.30,201.80 C299.83,201.02 300.42,200.67 301.20,200.20 C301.98,199.73 302.83,199.38 304.00,199.00 C305.17,198.62 305.53,198.32 308.20,197.90 C310.87,197.48 310.57,197.80 320.00,196.50 C329.43,195.20 357.33,191.17 364.80,190.10" fill="none" stroke="#0000ff" stroke-width="1.7" stroke-dasharray="2.3 2.2 6.3 2.2"/>
<rect x="49.5" y="46.6" width="324.1" height="229.8" fill="none" stroke="#777777" stroke-width="0.5"/>
<path d="M67.47,276.4 v-3.9 M83.43,276.4 v-3.9 M94.75,276.4 v-3.9 M103.53,276.4 v-3.9 M110.70,276.4 v-3.9 M116.77,276.4 v-3.9 M122.02,276.4 v-3.9 M126.65,276.4 v-3.9 M130.80,276.4 v-3.9 M158.07,276.4 v-3.9 M174.03,276.4 v-3.9 M185.35,276.4 v-3.9 M194.13,276.4 v-3.9 M201.30,276.4 v-3.9 M207.37,276.4 v-3.9 M212.62,276.4 v-3.9 M217.25,276.4 v-3.9 M221.40,276.4 v-3.9 M248.67,276.4 v-3.9 M264.63,276.4 v-3.9 M275.95,276.4 v-3.9 M284.73,276.4 v-3.9 M291.90,276.4 v-3.9 M297.97,276.4 v-3.9 M303.22,276.4 v-3.9 M307.85,276.4 v-3.9 M312.00,276.4 v-3.9 M339.27,276.4 v-3.9 M355.23,276.4 v-3.9 M366.55,276.4 v-3.9 M365.35,46.6 v3.9 M356.57,46.6 v3.9 M349.40,46.6 v3.9 M343.33,46.6 v3.9 M338.08,46.6 v3.9 M333.45,46.6 v3.9 M329.30,46.6 v3.9 M302.03,46.6 v3.9 M286.07,46.6 v3.9 M274.75,46.6 v3.9 M265.97,46.6 v3.9 M258.80,46.6 v3.9 M252.73,46.6 v3.9 M247.48,46.6 v3.9 M242.85,46.6 v3.9 M238.70,46.6 v3.9 M211.43,46.6 v3.9 M195.47,46.6 v3.9 M184.15,46.6 v3.9 M175.37,46.6 v3.9 M168.20,46.6 v3.9 M162.13,46.6 v3.9 M156.88,46.6 v3.9 M152.25,46.6 v3.9 M148.10,46.6 v3.9 M120.83,46.6 v3.9 M104.87,46.6 v3.9 M93.55,46.6 v3.9 M84.77,46.6 v3.9 M77.60,46.6 v3.9 M71.53,46.6 v3.9 M66.28,46.6 v3.9 M61.65,46.6 v3.9 M57.50,46.6 v3.9 M49.5,247.63 h4.4 M49.5,218.90 h4.4 M49.5,190.17 h4.4 M49.5,161.44 h4.4 M49.5,132.71 h4.4 M49.5,103.98 h4.4 M49.5,75.25 h4.4" stroke="#777777" stroke-width="0.8" fill="none"/>
<g class="t">
<text x="46.0" y="39.7" font-size="16.3">10<tspan font-size="11.5" dy="-7" dx="0.8">3</tspan></text>
<text x="136.6" y="39.7" font-size="16.3">10<tspan font-size="11.5" dy="-7" dx="0.8">2</tspan></text>
<text x="227.2" y="39.7" font-size="16.3">10<tspan font-size="11.5" dy="-7" dx="0.8">1</tspan></text>
<text x="317.8" y="39.7" font-size="16.3">10<tspan font-size="11.5" dy="-7" dx="0.8">0</tspan></text>
<text x="23.9" y="51.9" font-size="16.3">10<tspan font-size="11.5" dy="-7" dx="0.8">6</tspan></text>
<text x="23.9" y="137.8" font-size="16.3">10<tspan font-size="11.5" dy="-7" dx="0.8">3</tspan></text>
<text x="23.9" y="223.8" font-size="16.3">10<tspan font-size="11.5" dy="-7" dx="0.8">0</tspan></text>
<text x="119.4" y="294.0" font-size="16.3">10<tspan font-size="11.5" dy="-7" dx="0.8">2</tspan></text>
<text x="210.0" y="294.0" font-size="16.3">10<tspan font-size="11.5" dy="-7" dx="0.8">3</tspan></text>
<text x="300.6" y="294.0" font-size="16.3">10<tspan font-size="11.5" dy="-7" dx="0.8">4</tspan></text>
<text x="136.2" y="13.4" font-size="16.3" word-spacing="1.0">Temperature <tspan font-style="italic">T</tspan> in GeV</text>
<text transform="translate(343.1,166.6) rotate(-90)" font-size="14.7" textLength="108.2" lengthAdjust="spacing">QCD confinement</text>
<text transform="translate(68.1,158.7) rotate(-90)" font-size="14.5"><tspan font-style="italic">Y</tspan><tspan font-size="10.8" dy="2.6" font-style="italic" stroke="#000" stroke-width="0.3">Q</tspan><tspan dy="-2.6"> freeze−out</tspan></text>
<text transform="translate(140.9,155.7) rotate(-18.6)" font-size="14.6">Interaction rate</text>
<text transform="translate(139.2,176) rotate(-18.6)" font-size="14.6">faster than Hubble</text>
<text transform="translate(13.0,195.62) rotate(-90) scale(1.27,1)" style="font-family:'Liberation Serif'" font-size="16.3" font-style="italic" stroke="#fff" stroke-width="0.3">σ</text>
<text transform="translate(15.3,184.04) rotate(-90) scale(1.0,1)" style="font-family:'Liberation Serif'" font-size="11.3">eff</text>
<text transform="translate(13.0,171.02) rotate(-90) scale(1.0,1)" style="font-family:'Liberation Serif'" font-size="16.3" font-style="italic">v</text>
<text transform="translate(15.3,163.73) rotate(-90) scale(1.0,1)" style="font-family:'Liberation Serif'" font-size="11.3">rel</text>
<text transform="translate(13.0,139.52) rotate(-90) scale(1.27,1)" style="font-family:'Liberation Serif'" font-size="16.3" font-style="italic" stroke="#fff" stroke-width="0.3">σ</text>
<text transform="translate(15.2,128.12) rotate(-90) scale(1.0,1)" style="font-family:'Liberation Serif'" font-size="11.0">0</text>
<path d="M1.7,196.9 L8.2,201.2 L14.7,196.9 M1.7,151.3 L8.2,147.0 L14.7,151.3 M14.8,145.7 L1.3,138.9" fill="none" stroke="#000" stroke-width="0.9"/>
<text transform="translate(179.88,317.8) scale(1.0,1)" style="font-family:'Liberation Serif'" font-size="16.3" font-style="italic">z</text>
<text transform="translate(190.14,317.8) scale(1.18,1)" style="font-family:'Liberation Serif'" font-size="16.3">=</text>
<text transform="translate(205.89,317.8) scale(1.0,1)" style="font-family:'Liberation Serif'" font-size="16.3" font-style="italic">M</text>
<text transform="translate(218.58,320.3) scale(1.0,1)" style="font-family:'Liberation Serif'" font-size="11.3" font-style="italic" stroke="#000" stroke-width="0.35">Q</text>
<text transform="translate(228.30,317.8) scale(1.0,1)" style="font-family:'Liberation Serif'" font-size="16.3">/</text>
<text transform="translate(231.53,317.8) scale(1.0,1)" style="font-family:'Liberation Serif'" font-size="16.3" font-style="italic">T</text>
<text transform="translate(434.38,55.6) scale(0.934,1)" style="font-family:'Liberation Serif'" font-size="14.5">confinement</text>
<text transform="translate(506.27,55.6) scale(0.934,1)" style="font-family:'Liberation Serif'" font-size="14.5">effect</text>
<text transform="translate(434.77,77.2) scale(0.934,1)" style="font-family:'Liberation Serif'" font-size="14.5">tree</text>
<text transform="translate(458.23,77.2) scale(1.06,1)" style="font-family:'Liberation Serif'" font-size="14.5">+</text>
<text transform="translate(470.59,77.2) scale(0.934,1)" style="font-family:'Liberation Serif'" font-size="14.5">Sommerfeld</text>
<text transform="translate(542.03,77.2) scale(1.06,1)" style="font-family:'Liberation Serif'" font-size="14.5">+</text>
<text transform="translate(554.60,77.2) scale(0.934,1)" style="font-family:'Liberation Serif'" font-size="14.5">bound</text>
<text transform="translate(592.04,77.2) scale(0.934,1)" style="font-family:'Liberation Serif'" font-size="14.5">states</text>
<text transform="translate(434.77,98.5) scale(0.934,1)" style="font-family:'Liberation Serif'" font-size="14.5">tree</text>
<text transform="translate(434.77,120.0) scale(0.934,1)" style="font-family:'Liberation Serif'" font-size="14.5">tree</text>
<text transform="translate(455.13,120.0) scale(1.06,1)" style="font-family:'Liberation Serif'" font-size="14.5">+</text>
<text transform="translate(466.99,120.0) scale(0.934,1)" style="font-family:'Liberation Serif'" font-size="14.5">Sommerfeld</text>
<text transform="translate(433.77,145.6) scale(1.0,1)" style="font-family:'Liberation Serif'" font-size="13.2" font-style="italic" stroke="#000" stroke-width="0.4">Q</text>
<text transform="translate(442.67,145.6) scale(1.0,1)" style="font-family:'Liberation Serif'" font-size="13.2" font-style="italic" stroke="#000" stroke-width="0.4">Q</text>
<line x1="443.9" x2="454.0" y1="133.4" y2="133.4" stroke="#000" stroke-width="0.9"/>
<text transform="translate(453.36,145.6) scale(1.03,1)" style="font-family:'Liberation Serif'" font-size="14.5">−</text>
<text transform="translate(462.21,145.6) scale(0.934,1)" style="font-family:'Liberation Serif'" font-size="14.5">1</text>
<text transform="translate(469.33,145.6) scale(0.934,1)" style="font-family:'Liberation Serif'" font-size="14.5" font-style="italic">s</text>
<text transform="translate(473.94,147.79999999999998) scale(0.934,1)" style="font-family:'Liberation Serif'" font-size="10.0">8</text>
<text transform="translate(479.37,148.9) scale(0.934,1)" style="font-family:'Liberation Serif'" font-size="7.3" font-style="italic">A</text>
<text transform="translate(484.58,141.0) scale(0.934,1)" style="font-family:'Liberation Serif'" font-size="10.0">1</text>
<text transform="translate(433.77,173.8) scale(1.0,1)" style="font-family:'Liberation Serif'" font-size="13.2" font-style="italic" stroke="#000" stroke-width="0.4">Q</text>
<text transform="translate(442.67,173.8) scale(1.0,1)" style="font-family:'Liberation Serif'" font-size="13.2" font-style="italic" stroke="#000" stroke-width="0.4">Q</text>
<line x1="443.9" x2="454.0" y1="161.6" y2="161.6" stroke="#000" stroke-width="0.9"/>
<text transform="translate(453.36,173.8) scale(1.03,1)" style="font-family:'Liberation Serif'" font-size="14.5">−</text>
<text transform="translate(462.21,173.8) scale(0.934,1)" style="font-family:'Liberation Serif'" font-size="14.5">1</text>
<text transform="translate(469.33,173.8) scale(0.934,1)" style="font-family:'Liberation Serif'" font-size="14.5" font-style="italic">s</text>
<text transform="translate(474.38,176.0) scale(0.934,1)" style="font-family:'Liberation Serif'" font-size="10.0">1</text>
<text transform="translate(479.94,169.2) scale(0.934,1)" style="font-family:'Liberation Serif'" font-size="10.0">0</text>
<text transform="translate(433.77,200.3) scale(1.0,1)" style="font-family:'Liberation Serif'" font-size="13.2" font-style="italic" stroke="#000" stroke-width="0.4">Q</text>
<text transform="translate(442.67,200.3) scale(1.0,1)" style="font-family:'Liberation Serif'" font-size="13.2" font-style="italic" stroke="#000" stroke-width="0.4">Q</text>
<line x1="443.9" x2="454.0" y1="188.1" y2="188.1" stroke="#000" stroke-width="0.9"/>
<text transform="translate(453.36,200.3) scale(1.03,1)" style="font-family:'Liberation Serif'" font-size="14.5">−</text>
<text transform="translate(462.21,200.3) scale(0.934,1)" style="font-family:'Liberation Serif'" font-size="14.5">1</text>
<text transform="translate(469.33,200.3) scale(0.934,1)" style="font-family:'Liberation Serif'" font-size="14.5" font-style="italic">s</text>
<text transform="translate(473.94,202.5) scale(0.934,1)" style="font-family:'Liberation Serif'" font-size="10.0">8</text>
<text transform="translate(478.92,203.60000000000002) scale(0.934,1)" style="font-family:'Liberation Serif'" font-size="7.3" font-style="italic">S</text>
<text transform="translate(483.74,196.3) scale(0.934,1)" style="font-family:'Liberation Serif'" font-size="10.0">0</text>
<text transform="translate(433.77,224.4) scale(1.0,1)" style="font-family:'Liberation Serif'" font-size="13.2" font-style="italic" stroke="#000" stroke-width="0.4">Q</text>
<text transform="translate(442.67,224.4) scale(1.0,1)" style="font-family:'Liberation Serif'" font-size="13.2" font-style="italic" stroke="#000" stroke-width="0.4">Q</text>
<text transform="translate(453.36,224.4) scale(1.03,1)" style="font-family:'Liberation Serif'" font-size="14.5">−</text>
<text transform="translate(462.30,224.4) scale(0.934,1)" style="font-family:'Liberation Serif'" font-size="14.5">2</text>
<text transform="translate(469.20,224.4) scale(0.934,1)" style="font-family:'Liberation Serif'" font-size="14.5">(</text>
<text transform="translate(472.74,224.4) scale(0.934,1)" style="font-family:'Liberation Serif'" font-size="14.5">s</text>
<text transform="translate(477.91,224.4) scale(1.1,1)" style="font-family:'Liberation Serif'" font-size="14.5">+</text>
<text transform="translate(485.78,224.4) scale(0.934,1)" style="font-family:'Liberation Serif'" font-size="14.5">p</text>
<text transform="translate(492.96,224.4) scale(0.934,1)" style="font-family:'Liberation Serif'" font-size="14.5">)</text>
<text transform="translate(498.34,226.6) scale(0.934,1)" style="font-family:'Liberation Serif'" font-size="10.0">8</text>
<text transform="translate(503.42,227.70000000000002) scale(0.934,1)" style="font-family:'Liberation Serif'" font-size="7.3" font-style="italic">S</text>
<text transform="translate(433.77,248.4) scale(1.0,1)" style="font-family:'Liberation Serif'" font-size="13.2" font-style="italic" stroke="#000" stroke-width="0.4">Q</text>
<text transform="translate(442.67,248.4) scale(1.0,1)" style="font-family:'Liberation Serif'" font-size="13.2" font-style="italic" stroke="#000" stroke-width="0.4">Q</text>
<text transform="translate(453.36,248.4) scale(1.03,1)" style="font-family:'Liberation Serif'" font-size="14.5">−</text>
<text transform="translate(462.21,248.4) scale(0.934,1)" style="font-family:'Liberation Serif'" font-size="14.5">1</text>
<text transform="translate(469.33,248.4) scale(0.934,1)" style="font-family:'Liberation Serif'" font-size="14.5" font-style="italic">s</text>
<text transform="translate(473.94,250.6) scale(0.934,1)" style="font-family:'Liberation Serif'" font-size="10.0">8</text>
<text transform="translate(479.37,251.70000000000002) scale(0.934,1)" style="font-family:'Liberation Serif'" font-size="7.3" font-style="italic">A</text>
<text transform="translate(484.58,243.8) scale(0.934,1)" style="font-family:'Liberation Serif'" font-size="10.0">1</text>
<text transform="translate(433.77,271.8) scale(1.0,1)" style="font-family:'Liberation Serif'" font-size="13.2" font-style="italic" stroke="#000" stroke-width="0.4">Q</text>
<text transform="translate(442.67,271.8) scale(1.0,1)" style="font-family:'Liberation Serif'" font-size="13.2" font-style="italic" stroke="#000" stroke-width="0.4">Q</text>
<text transform="translate(453.36,271.8) scale(1.03,1)" style="font-family:'Liberation Serif'" font-size="14.5">−</text>
<text transform="translate(462.73,271.8) scale(0.934,1)" style="font-family:'Liberation Serif'" font-size="14.5" font-style="italic">s</text>
<text transform="translate(467.68,274.0) scale(0.934,1)" style="font-family:'Liberation Serif'" font-size="10.0">1</text>
<text transform="translate(472.94,267.2) scale(0.934,1)" style="font-family:'Liberation Serif'" font-size="10.0">0</text>
</g>
<line x1="388.3" x2="427.9" y1="52.5" y2="52.5" stroke="#ff800a" stroke-width="1.7"/>
<line x1="388.3" x2="427.9" y1="73.8" y2="73.8" stroke="#808080" stroke-width="3.6"/>
<line x1="388.3" x2="427.9" y1="94.5" y2="94.5" stroke="#808080" stroke-width="0.7"/>
<line x1="388.3" x2="427.9" y1="116.1" y2="116.1" stroke="#000" stroke-width="1.7"/>
<line x1="388.3" x2="427.9" y1="141.9" y2="141.9" stroke="#ff0000" stroke-width="1.7"/>
<line x1="388.3" x2="427.9" y1="169.6" y2="169.6" stroke="#0000ff" stroke-width="1.7"/>
<line x1="388.3" x2="427.9" y1="196.3" y2="196.3" stroke="#00a000" stroke-width="1.7"/>
<line x1="388.3" x2="424.6" y1="221.2" y2="221.2" stroke="#ff0000" stroke-width="1.7" stroke-dasharray="2.3 2.2 6.3 2.2"/>
<line x1="388.3" x2="424.6" y1="244.7" y2="244.7" stroke="#0000ff" stroke-width="1.7" stroke-dasharray="2.3 2.2 6.3 2.2"/>
<line x1="388.3" x2="424.6" y1="268.6" y2="268.6" stroke="#00a000" stroke-width="1.7" stroke-dasharray="2.3 2.2 6.3 2.2"/>
</svg></body></html>
